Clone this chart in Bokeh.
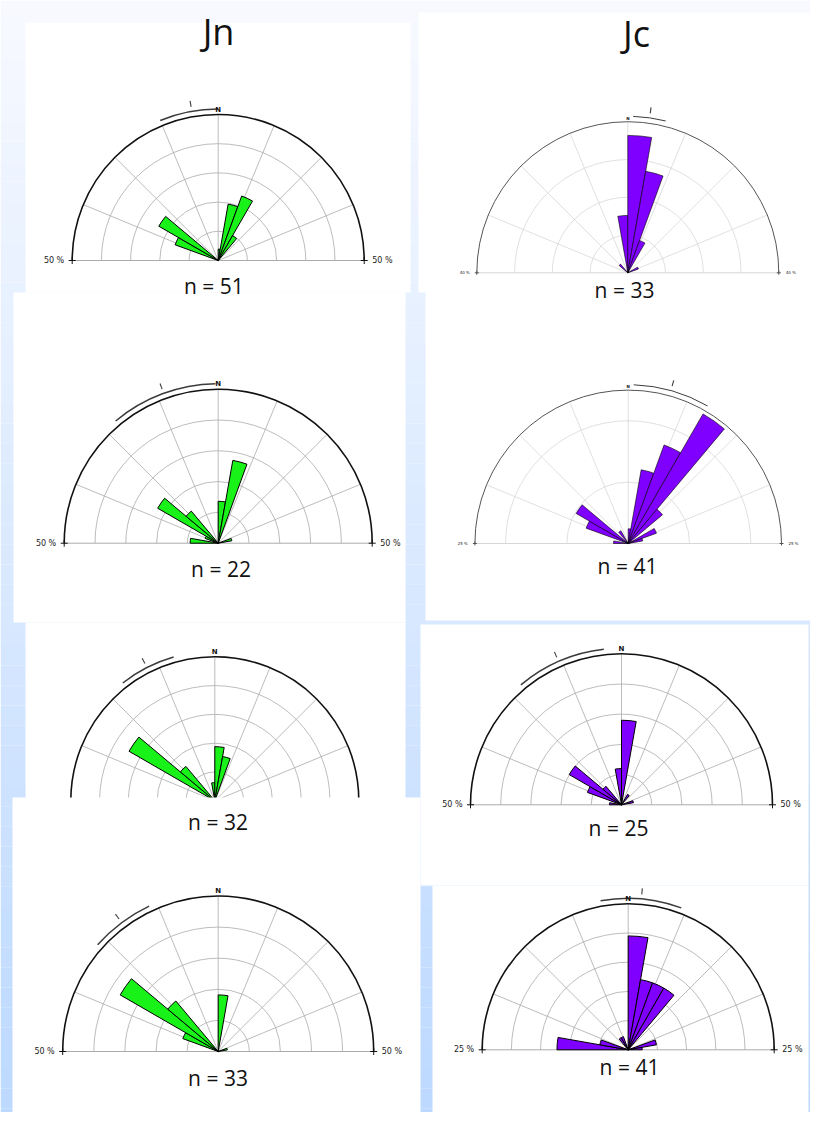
import numpy as np
from bokeh.plotting import figure
from bokeh.models import Range1d, ColumnDataSource
from bokeh.embed import file_html
from bokeh.resources import INLINE
from bokeh.core.properties import value

# ---------------- data ----------------
column_titles = ["Jn", "Jc"]

# 10-degree bins: start azimuth (deg, clockwise from N) and percentage of measurements
jn1_bins = [-70, -60, 0, 10, 20, 30]
jn1_pct = [15.7, 23.5, 3.9, 19.6, 23.5, 9.8]
jn1_n = 51
jn1_max = 50
jn1_ring = 10
jn1_arc = [-22.5, 0.0]
jn1_mean = -10

jc1_bins = [-50, -10, 0, 10, 20, 60]
jc1_pct = [3.0, 15.2, 36.4, 27.3, 9.1, 3.0]
jc1_n = 33
jc1_max = 40
jc1_ring = 10
jc1_arc = [2.0, 14.0]
jc1_mean = 8

jn2_bins = [-90, -70, -60, -50, 0, 10, 70]
jn2_pct = [9.1, 4.5, 22.7, 13.6, 13.6, 27.3, 4.5]
jn2_n = 22
jn2_max = 50
jn2_ring = 10
jn2_arc = [-40.0, -1.0]
jn2_mean = -20

jc2_bins = [-90, -70, -60, -40, 0, 10, 20, 30, 40, 60, 70]
jc2_pct = [2.4, 7.3, 9.8, 2.4, 2.4, 12.2, 17.1, 24.4, 7.3, 4.9, 2.4]
jc2_n = 41
jc2_max = 25
jc2_ring = 10
jc2_arc = [2.0, 30.0]
jc2_mean = 15.6

jn3_bins = [-60, -50, -10, 0, 10]
jn3_pct = [34.4, 15.6, 6.3, 18.8, 15.6]
jn3_n = 32
jn3_max = 50
jn3_ring = 10
jn3_arc = [-38.0, -16.0]
jn3_mean = -27

jc3_bins = [-90, -70, -60, -50, -10, 0, 30, 70]
jc3_pct = [4.0, 12.0, 20.0, 8.0, 12.0, 28.0, 4.0, 4.0]
jc3_n = 25
jc3_max = 50
jc3_ring = 10
jc3_arc = [-40.0, -6.5]
jc3_mean = -23.7

jn4_bins = [-70, -60, -50, 0, 70]
jn4_pct = [12.1, 36.4, 21.2, 18.2, 3.0]
jn4_n = 33
jn4_max = 50
jn4_ring = 10
jn4_arc = [-48.5, -25.4]
jn4_mean = -36.8

jc4_bins = [-90, -80, -40, -30, 0, 10, 20, 30, 70, 80]
jc4_pct = [12.2, 4.9, 2.4, 2.4, 19.5, 12.2, 12.2, 12.2, 4.9, 2.4]
jc4_n = 41
jc4_max = 25
jc4_ring = 5
jc4_arc = [-10.5, 20.5]
jc4_mean = 5

roses = [
    dict(bins=jn1_bins, pct=jn1_pct, n=jn1_n, mx=jn1_max, ring=jn1_ring, arc=jn1_arc, mean=jn1_mean, color="#19f219", style="normal"),
    dict(bins=jc1_bins, pct=jc1_pct, n=jc1_n, mx=jc1_max, ring=jc1_ring, arc=jc1_arc, mean=jc1_mean, color="#8000ff", style="tiny"),
    dict(bins=jn2_bins, pct=jn2_pct, n=jn2_n, mx=jn2_max, ring=jn2_ring, arc=jn2_arc, mean=jn2_mean, color="#19f219", style="normal"),
    dict(bins=jc2_bins, pct=jc2_pct, n=jc2_n, mx=jc2_max, ring=jc2_ring, arc=jc2_arc, mean=jc2_mean, color="#8000ff", style="tiny"),
    dict(bins=jn3_bins, pct=jn3_pct, n=jn3_n, mx=jn3_max, ring=jn3_ring, arc=jn3_arc, mean=jn3_mean, color="#19f219", style="normal"),
    dict(bins=jc3_bins, pct=jc3_pct, n=jc3_n, mx=jc3_max, ring=jc3_ring, arc=jc3_arc, mean=jc3_mean, color="#8000ff", style="normal"),
    dict(bins=jn4_bins, pct=jn4_pct, n=jn4_n, mx=jn4_max, ring=jn4_ring, arc=jn4_arc, mean=jn4_mean, color="#19f219", style="normal"),
    dict(bins=jc4_bins, pct=jc4_pct, n=jc4_n, mx=jc4_max, ring=jc4_ring, arc=jc4_arc, mean=jc4_mean, color="#8000ff", style="normal"),
]

# ---------------- layout (page pixel positions) ----------------
layout = [
    dict(cx=217.7, cy=260.0, R=146.0, lx=213.3, ly=285.0, base=True),
    dict(cx=627.3, cy=272.3, R=151.0, lx=624.0, ly=289.5, base=True),
    dict(cx=217.7, cy=542.7, R=154.0, lx=220.5, ly=568.5, base=True),
    dict(cx=627.7, cy=543.0, R=153.3, lx=627.0, ly=565.5, base=True),
    dict(cx=214.3, cy=800.3, R=144.0, lx=217.5, ly=821.5, base=False),
    dict(cx=621.0, cy=804.3, R=151.0, lx=618.0, ly=827.0, base=True),
    dict(cx=217.7, cy=1051.0, R=155.5, lx=217.5, ly=1077.0, base=True),
    dict(cx=627.7, cy=1049.3, R=146.0, lx=629.0, ly=1066.5, base=True),
]

styles = {
    "normal": dict(grid="#ababab", grid_w=0.8, outer="#111111", outer_w=1.6, lab_size="8px",
                   n_size="7px", lab_off=8, cross=7, petal_w=1.0, arc_w=1.5),
    "tiny": dict(grid="#d2d2d2", grid_w=0.7, outer="#555555", outer_w=1.0, lab_size="4px",
                 n_size="4px", lab_off=7, cross=4, petal_w=0.6, arc_w=1.0),
}

W, H = 810, 1112
X0, X1, Y0, Y1 = 0, W, 0, H
p = figure(width=W, height=H, x_range=Range1d(X0, X1), y_range=Range1d(Y1, Y0),
           output_backend="svg", toolbar_location=None, min_border=0,
           x_axis_location=None, y_axis_location=None)
p.grid.visible = False
p.outline_line_color = None
p.background_fill_color = "#ffffff"
p.border_fill_color = "#ffffff"

# background gradient
nb = 56
edges = np.linspace(0, 1128, nb + 1)
c_top = np.array([248, 250, 255])
c_bot = np.array([188, 217, 255])
cols = []
for i in range(nb):
    t = (i + 0.5) / nb
    c = (c_top * (1 - t) + c_bot * t).astype(int)
    cols.append("#%02x%02x%02x" % tuple(c))
p.quad(left=0, right=826, top=edges[:-1], bottom=edges[1:], fill_color=cols, line_color=None)

panels_first = [
    (25, 410, 22, 292),
    (418, 826, 12, 292),
    (13, 405, 292, 622),
    (425, 826, 290, 620),
    (25, 405, 622, 800),
    (420, 808, 624, 885),
]
panels_second = [
    (12, 420, 797, 1128),
    (432, 808, 885, 1128),
]


def draw_panels(lst):
    p.quad(left=[a[0] for a in lst], right=[a[1] for a in lst],
           top=[a[2] for a in lst], bottom=[a[3] for a in lst],
           fill_color="white", line_color=None)


def rose_geometry(k):
    d = roses[k]
    lay = layout[k]
    st = styles[d["style"]]
    cx, cy, R = lay["cx"], lay["cy"], lay["R"]
    M = d["mx"]
    s = M / R
    xr, yr = "x%d" % k, "y%d" % k
    p.extra_x_ranges[xr] = Range1d((X0 - cx) * s, (X1 - cx) * s)
    p.extra_y_ranges[yr] = Range1d((cy - Y1) * s, (cy - Y0) * s)
    kw = dict(x_range_name=xr, y_range_name=yr)

    rings = list(np.arange(d["ring"], M - 1e-6, d["ring"]))
    p.arc(x=0, y=0, radius=rings, start_angle=0, end_angle=np.pi, direction="anticlock",
          line_color=st["grid"], line_width=st["grid_w"], **kw)
    sp = np.radians(np.arange(22.5, 180, 22.5))
    p.segment(x0=0, y0=0, x1=list(M * np.cos(sp)), y1=list(M * np.sin(sp)),
              line_color=st["grid"], line_width=st["grid_w"], **kw)
    if lay["base"]:
        p.segment(x0=-M, y0=0, x1=M, y1=0, line_color=st["grid"], line_width=st["grid_w"] + 0.2, **kw)
        p.scatter(x=[-M, M], y=[0, 0], marker="cross", size=st["cross"],
                  line_color=st["outer"], line_width=1, **kw)
    p.arc(x=0, y=0, radius=M, start_angle=0, end_angle=np.pi, direction="anticlock",
          line_color=st["outer"], line_width=st["outer_w"], **kw)

    b = np.array(d["bins"], dtype=float)
    src = ColumnDataSource(dict(r=d["pct"], a0=list(np.radians(90 - (b + 10))),
                                a1=list(np.radians(90 - b))))
    p.wedge(x=0, y=0, radius="r", start_angle="a0", end_angle="a1", direction="anticlock",
            source=src, fill_color=d["color"], line_color="black", line_width=st["petal_w"], **kw)

    ra = M + 5.5 * s
    p.arc(x=0, y=0, radius=ra, start_angle=np.radians(90 - d["arc"][1]),
          end_angle=np.radians(90 - d["arc"][0]), direction="anticlock",
          line_color="#3c3c3c", line_width=st["arc_w"], **kw)
    r0 = M + 10 * s
    am = np.radians(d["mean"])
    p.ray(x=r0 * np.sin(am), y=r0 * np.cos(am), length=6, length_units="screen",
          angle=np.radians(90 - d["mean"]), line_color="#3c3c3c", line_width=1.1, **kw)

    p.text(x=0, y=M, text=["N"], text_align="center", text_baseline="bottom", y_offset=-1,
           text_font=value("DejaVu Sans"), text_font_size=st["n_size"], text_font_style="bold",
           text_color="#111111", **kw)
    if lay["base"]:
        lab = "%d %%" % M
        p.text(x=-M, y=0, text=[lab], text_align="right", text_baseline="middle", x_offset=-st["lab_off"],
               text_font=value("DejaVu Sans"), text_font_size=st["lab_size"], text_color="#222222", **kw)
        p.text(x=M, y=0, text=[lab], text_align="left", text_baseline="middle", x_offset=st["lab_off"],
               text_font=value("DejaVu Sans"), text_font_size=st["lab_size"], text_color="#222222", **kw)


def rose_count(k):
    d = roses[k]
    lay = layout[k]
    p.text(x=0, y=0, text=["n = %d" % d["n"]], text_align="center", text_baseline="alphabetic",
           x_offset=lay["lx"] - lay["cx"], y_offset=lay["ly"] - lay["cy"],
           text_font=value("Open Sans"), text_font_size="21px", text_color="#111111",
           x_range_name="x%d" % k, y_range_name="y%d" % k)


draw_panels(panels_first)
for k in range(6):
    rose_geometry(k)
draw_panels(panels_second)
for k in range(6, 8):
    rose_geometry(k)
for k in range(8):
    rose_count(k)

p.text(x=[218, 636], y=[31, 33], text=column_titles, text_align="center", text_baseline="alphabetic",
       text_font=value("Open Sans"), text_font_size="36px", text_color="#111111")

open("out.html", "w").write(file_html(p, INLINE))
